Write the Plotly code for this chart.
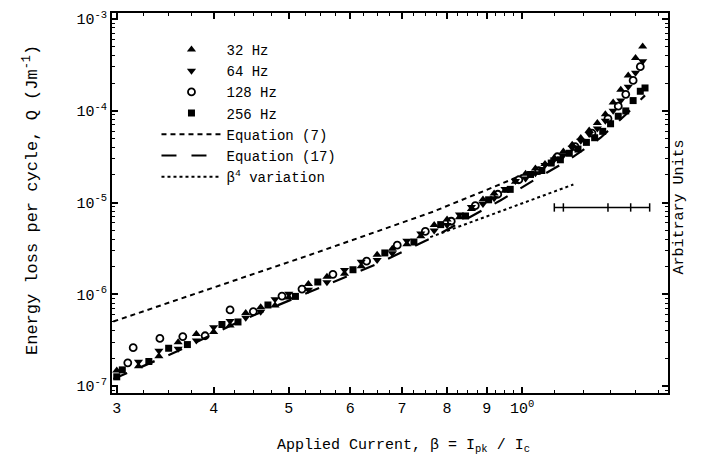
import plotly.graph_objects as go

# Measured loss per cycle Q (J/m) versus normalised current beta = Ipk/Ic
beta_32 = [0.30, 0.32, 0.34, 0.36, 0.38, 0.40, 0.42, 0.44, 0.46, 0.48, 0.50, 0.53,
           0.56, 0.59, 0.62, 0.65, 0.68, 0.71, 0.74, 0.77, 0.80, 0.83, 0.86, 0.89,
           0.92, 0.95, 0.98, 1.01, 1.04, 1.07, 1.10, 1.13, 1.16, 1.19, 1.22, 1.25,
           1.28, 1.31, 1.34, 1.37, 1.40, 1.43]
q_32 = [1.48e-7, 1.64e-7, 2.11e-7, 3.00e-7, 3.68e-7, 3.89e-7, 4.56e-7, 6.24e-7,
        7.21e-7, 7.53e-7, 9.20e-7, 1.29e-6, 1.55e-6, 1.67e-6, 2.02e-6, 2.70e-6,
        3.13e-6, 3.50e-6, 4.28e-6, 5.68e-6, 6.52e-6, 6.92e-6, 8.51e-6, 1.08e-5,
        1.25e-5, 1.34e-5, 1.68e-5, 2.06e-5, 2.34e-5, 2.63e-5, 3.08e-5, 3.60e-5,
        4.25e-5, 5.04e-5, 6.10e-5, 7.34e-5, 9.14e-5, 1.23e-4, 1.69e-4, 2.42e-4,
        3.76e-4, 5.01e-4]

beta_64 = [0.32, 0.34, 0.36, 0.38, 0.40, 0.42, 0.44, 0.46, 0.48, 0.50, 0.53, 0.56,
           0.59, 0.62, 0.65, 0.68, 0.71, 0.74, 0.77, 0.80, 0.83, 0.86, 0.89, 0.92,
           0.95, 0.98, 1.01, 1.04, 1.07, 1.10, 1.13, 1.16, 1.19, 1.22, 1.25, 1.28,
           1.31, 1.34, 1.37, 1.40, 1.43]
q_64 = [1.84e-7, 2.42e-7, 2.55e-7, 3.13e-7, 4.37e-7, 5.12e-7, 5.56e-7, 6.43e-7,
        8.85e-7, 1.01e-6, 1.12e-6, 1.35e-6, 1.84e-6, 2.26e-6, 2.36e-6, 2.79e-6,
        3.84e-6, 4.58e-6, 4.94e-6, 5.68e-6, 7.41e-6, 8.91e-6, 9.64e-6, 1.11e-5,
        1.40e-5, 1.72e-5, 1.83e-5, 2.08e-5, 2.57e-5, 2.94e-5, 3.28e-5, 3.96e-5,
        4.70e-5, 5.56e-5, 6.40e-5, 7.78e-5, 9.98e-5, 1.29e-4, 1.83e-4, 2.60e-4,
        3.47e-4]

beta_128 = [0.31, 0.315, 0.341, 0.365, 0.39, 0.42, 0.45, 0.49, 0.52, 0.57, 0.63,
            0.69, 0.75, 0.81, 0.87, 0.93, 0.99, 1.05, 1.11, 1.17, 1.23, 1.29,
            1.33, 1.36, 1.39, 1.42]
q_128 = [1.79e-7, 2.62e-7, 3.30e-7, 3.46e-7, 3.53e-7, 6.75e-7, 6.47e-7, 9.55e-7,
         1.14e-6, 1.65e-6, 2.30e-6, 3.43e-6, 4.84e-6, 6.25e-6, 9.23e-6, 1.23e-5,
         1.77e-5, 2.23e-5, 3.15e-5, 4.06e-5, 5.69e-5, 8.20e-5, 1.12e-4, 1.51e-4,
         2.14e-4, 3.02e-4]

beta_256 = [0.30, 0.305, 0.33, 0.35, 0.37, 0.41, 0.43, 0.47, 0.51, 0.545, 0.605,
            0.665, 0.725, 0.785, 0.845, 0.905, 0.965, 1.025, 1.06, 1.09, 1.12,
            1.15, 1.18, 1.21, 1.24, 1.27, 1.30, 1.33, 1.36, 1.39, 1.42, 1.44]
q_256 = [1.26e-7, 1.50e-7, 1.85e-7, 2.58e-7, 2.83e-7, 4.68e-7, 4.99e-7, 7.64e-7,
         9.48e-7, 1.36e-6, 1.85e-6, 2.82e-6, 3.71e-6, 5.74e-6, 7.13e-6, 1.07e-5,
         1.39e-5, 2.02e-5, 2.23e-5, 2.69e-5, 2.92e-5, 3.44e-5, 3.82e-5, 4.52e-5,
         5.08e-5, 5.96e-5, 7.21e-5, 8.71e-5, 9.95e-5, 1.29e-4, 1.63e-4, 1.77e-4]

# Model curves
eq7_beta = [0.297, 0.359, 0.437, 0.532, 0.650, 0.768, 0.937, 1.0]
eq7_q = [5.05e-7, 8.65e-7, 1.51e-6, 2.68e-6, 4.84e-6, 7.96e-6, 1.58e-5, 2.0e-5]

eq17_beta = [0.297, 0.359, 0.437, 0.532, 0.650, 0.768, 0.937, 1.033, 1.143,
             1.261, 1.366, 1.44]
eq17_q = [1.19e-7, 2.39e-7, 5.3e-7, 1.06e-6, 2.14e-6, 4.19e-6, 1.05e-5, 1.73e-5,
          2.84e-5, 5.05e-5, 9.4e-5, 1.47e-4]

# beta^4 reference line (arbitrary units) and its pointer to the right-hand scale
b4_beta = [0.761, 1.164]
b4_q = [4.19e-6, 1.57e-5]
ptr_beta = [1.10, 1.13, 1.29, 1.38, 1.46]
ptr_q = [8.83e-6, 8.83e-6, 8.83e-6, 8.83e-6, 8.83e-6]

x_ticks = [0.3, 0.4, 0.5, 0.6, 0.7, 0.8, 0.9, 1.0]
x_ticktext = ["3", "4", "5", "6", "7", "8", "9", "10<sup>0</sup>"]
y_ticks = [1e-3, 1e-4, 1e-5, 1e-6, 1e-7]
y_ticktext = ["10<sup>-3</sup>", "10<sup>-4</sup>", "10<sup>-5</sup>",
              "10<sup>-6</sup>", "10<sup>-7</sup>"]

FONT = "Liberation Mono"
INK = "black"

fig = go.Figure()

series = [
    ("32 Hz", beta_32, q_32, dict(symbol="triangle-up", size=8, color=INK)),
    ("64 Hz", beta_64, q_64, dict(symbol="triangle-down", size=8, color=INK)),
    ("128 Hz", beta_128, q_128, dict(symbol="circle-open", size=7, color=INK,
                                     line=dict(width=1.8, color=INK))),
    ("256 Hz", beta_256, q_256, dict(symbol="square", size=7, color=INK)),
]
for name, bx, qy, mk in series:
    fig.add_trace(go.Scatter(x=bx, y=qy, mode="markers", name=name, marker=mk))

fig.add_trace(go.Scatter(x=eq7_beta, y=eq7_q, mode="lines", name="Equation (7)",
                         line=dict(color=INK, width=2, dash="5px,4px")))
fig.add_trace(go.Scatter(x=eq17_beta, y=eq17_q, mode="lines", name="Equation (17)",
                         line=dict(color=INK, width=2.2, dash="longdash")))
fig.add_trace(go.Scatter(x=b4_beta, y=b4_q, mode="lines",
                         name="\u03b2<sup>4</sup> variation",
                         line=dict(color=INK, width=2, dash="dot")))
fig.add_trace(go.Scatter(x=ptr_beta, y=ptr_q, mode="lines+markers", showlegend=False,
                         line=dict(color=INK, width=1.5),
                         marker=dict(symbol="line-ns", size=6,
                                     line=dict(width=1.5, color=INK))))

minor_y = []
for e in range(-8, -2):
    for k in range(2, 10):
        minor_y.append(k * 10.0 ** e)
minor_x = [round(0.30 + 0.025 * i, 3) for i in range(29)] + [1.1, 1.2, 1.3, 1.4, 1.5]

axis_common = dict(
    type="log", showgrid=False, zeroline=False, showline=True, linecolor=INK,
    linewidth=2, mirror="allticks", ticks="inside", ticklen=6, tickwidth=1.5,
    tickcolor=INK, tickfont=dict(family=FONT, size=15, color=INK),
)

fig.update_layout(
    width=702, height=459,
    margin=dict(l=112, r=34, t=9, b=66),
    paper_bgcolor="white", plot_bgcolor="white",
    font=dict(family=FONT, color=INK),
    xaxis=dict(axis_common, range=[-0.529, 0.188], tickvals=x_ticks,
               ticktext=x_ticktext,
               minor=dict(tickvals=minor_x, ticks="inside", ticklen=3,
                          tickcolor=INK, tickwidth=1)),
    yaxis=dict(axis_common, range=[-7.076, -2.935], tickvals=y_ticks,
               ticktext=y_ticktext,
               minor=dict(tickvals=minor_y, ticks="inside", ticklen=3,
                          tickcolor=INK, tickwidth=1)),
    legend=dict(x=0.08, y=0.945, xanchor="left", yanchor="top",
                bgcolor="rgba(0,0,0,0)", borderwidth=0, itemwidth=60,
                font=dict(family=FONT, size=14, color=INK)),
    annotations=[
        dict(text="Energy loss per cycle, Q (Jm<sup>-1</sup>)", xref="paper",
             yref="paper", x=-0.169, y=0.508, textangle=-90, showarrow=False,
             font=dict(family=FONT, size=17, color=INK)),
        dict(text="Applied Current, \u03b2 = I<sub>pk</sub> / I<sub>c</sub>",
             xref="paper", yref="paper", x=0.525, y=-0.14, showarrow=False,
             yanchor="middle", font=dict(family=FONT, size=15, color=INK)),
        dict(text="Arbitrary Units", xref="paper", yref="paper", x=1.04, y=0.49,
             textangle=-90, showarrow=False,
             font=dict(family=FONT, size=15, color=INK)),
    ],
)

fig.write_html("out.html")
